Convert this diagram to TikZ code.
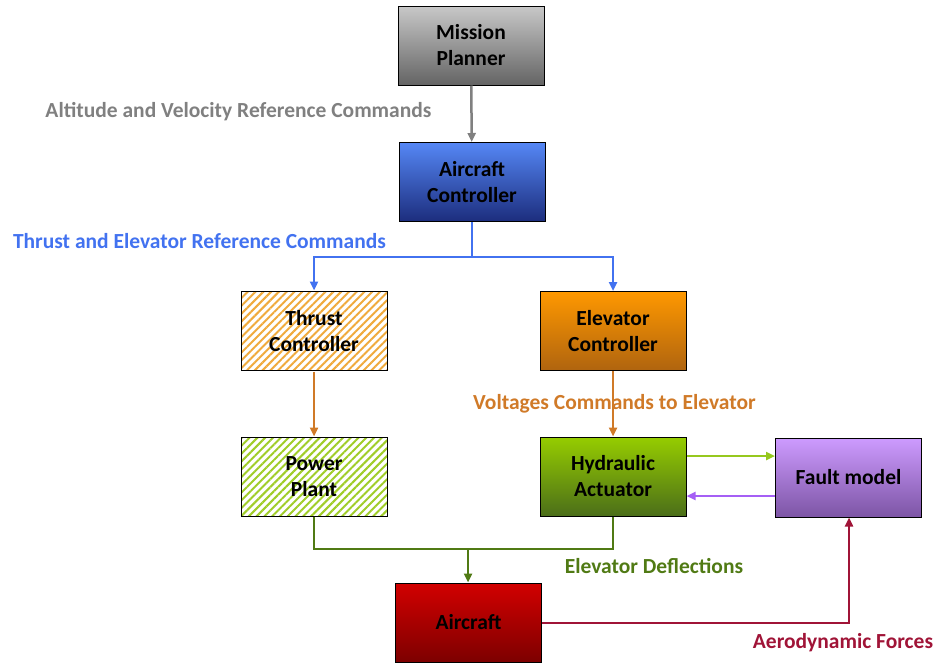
\documentclass[tikz,border=0pt]{standalone}
\usepackage{fontspec}
\setmainfont{Carlito}
\usetikzlibrary{arrows.meta,patterns.meta}

\definecolor{cgray}{RGB}{128,128,128}
\definecolor{cblue}{RGB}{66,114,240}
\definecolor{corange}{RGB}{208,122,40}
\definecolor{cdgreen}{RGB}{80,122,20}
\definecolor{clime}{RGB}{150,200,30}
\definecolor{cpurple}{RGB}{165,95,245}
\definecolor{cred}{RGB}{160,20,55}
% block fill colours
\definecolor{mptop}{RGB}{200,200,200}
\definecolor{mpbot}{RGB}{100,100,100}
\definecolor{actop}{RGB}{85,135,245}
\definecolor{acbot}{RGB}{28,45,125}
\definecolor{ectop}{RGB}{255,152,0}
\definecolor{ecbot}{RGB}{175,100,15}
\definecolor{hatop}{RGB}{150,205,0}
\definecolor{habot}{RGB}{75,110,25}
\definecolor{fmtop}{RGB}{205,155,255}
\definecolor{fmbot}{RGB}{125,85,165}
\definecolor{artop}{RGB}{210,0,0}
\definecolor{arbot}{RGB}{125,0,0}
\definecolor{tchatch}{RGB}{240,170,60}
\definecolor{pphatch}{RGB}{160,205,40}

\tikzset{
  blk/.style={draw=black, line width=1pt, minimum width=146pt, minimum height=79pt,
    align=center, font=\bfseries\fontsize{21.5}{26}\selectfont, text=black, inner sep=0pt},
  grad/.style 2 args={blk, top color=#1, bottom color=#2},
  hatch/.style={blk, preaction={fill=white}, pattern={Lines[angle=45,distance=5.5pt,line width=2pt]}, pattern color=#1},
  flow/.style={line width=2.5pt, -{Triangle[length=9pt,width=8pt]}},
  lbl/.style={font=\bfseries\fontsize{21.5}{25}\selectfont, inner sep=0pt},
}

\begin{document}
\begin{tikzpicture}[x=1pt,y=-1pt]
\useasboundingbox (0,0) rectangle (937,664);

% blocks
\node[grad={mptop}{mpbot}] (mp) at (471,45.5) {Mission\\Planner};
\node[grad={actop}{acbot}] (ac) at (472,182) {Aircraft\\Controller};
\node[hatch=tchatch] (tc) at (314,331) {Thrust\\Controller};
\node[grad={ectop}{ecbot}] (ec) at (613,331) {Elevator\\Controller};
\node[hatch=pphatch] (pp) at (314,476.5) {Power\\Plant};
\node[grad={hatop}{habot}] (ha) at (613,476.5) {Hydraulic\\Actuator};
\node[grad={fmtop}{fmbot}] (fm) at (848.5,477.5) {Fault model};
\node[grad={artop}{arbot}] (air) at (468.5,622.5) {Aircraft};

% junction points
\coordinate (j1) at (472,257);
\coordinate (j2) at (468,549);
\coordinate (m1) at (849,623);

% connectors
\draw[flow, cgray] (mp) -- (ac);
\draw[line width=2.5pt, cblue] (ac.south) -- (j1);
\draw[flow, cblue] (j1) -| (tc.north);
\draw[flow, cblue] (j1) -| (ec.north);
\draw[flow, corange] (tc) -- (pp);
\draw[flow, corange] (ec) -- (ha);
\draw[line width=2.5pt, cdgreen] (pp.south) |- (j2) -| (ha.south);
\draw[flow, cdgreen] (j2) -- (air.north -| j2);
\draw[flow, clime] (ha.east |- 0,456) -- (fm.west |- 0,456);
\draw[flow, cpurple] (fm.west |- 0,496) -- (ha.east |- 0,496);
\draw[flow, cred] (air.east |- m1) -- (m1) -- (m1 |- fm.south);

% signal labels
\node[lbl, text=cgray] (l1) at (238.5,112) {Altitude and Velocity Reference Commands};
\node[lbl, text=cblue] (l2) at (199.5,241) {Thrust and Elevator Reference Commands};
\node[lbl, text=corange] (l3) at (614.5,404) {Voltages Commands to Elevator};
\node[lbl, text=cdgreen] (l4) at (654,566) {Elevator Deflections};
\node[lbl, text=cred] (l5) at (843,643) {Aerodynamic Forces};
\end{tikzpicture}
\end{document}
